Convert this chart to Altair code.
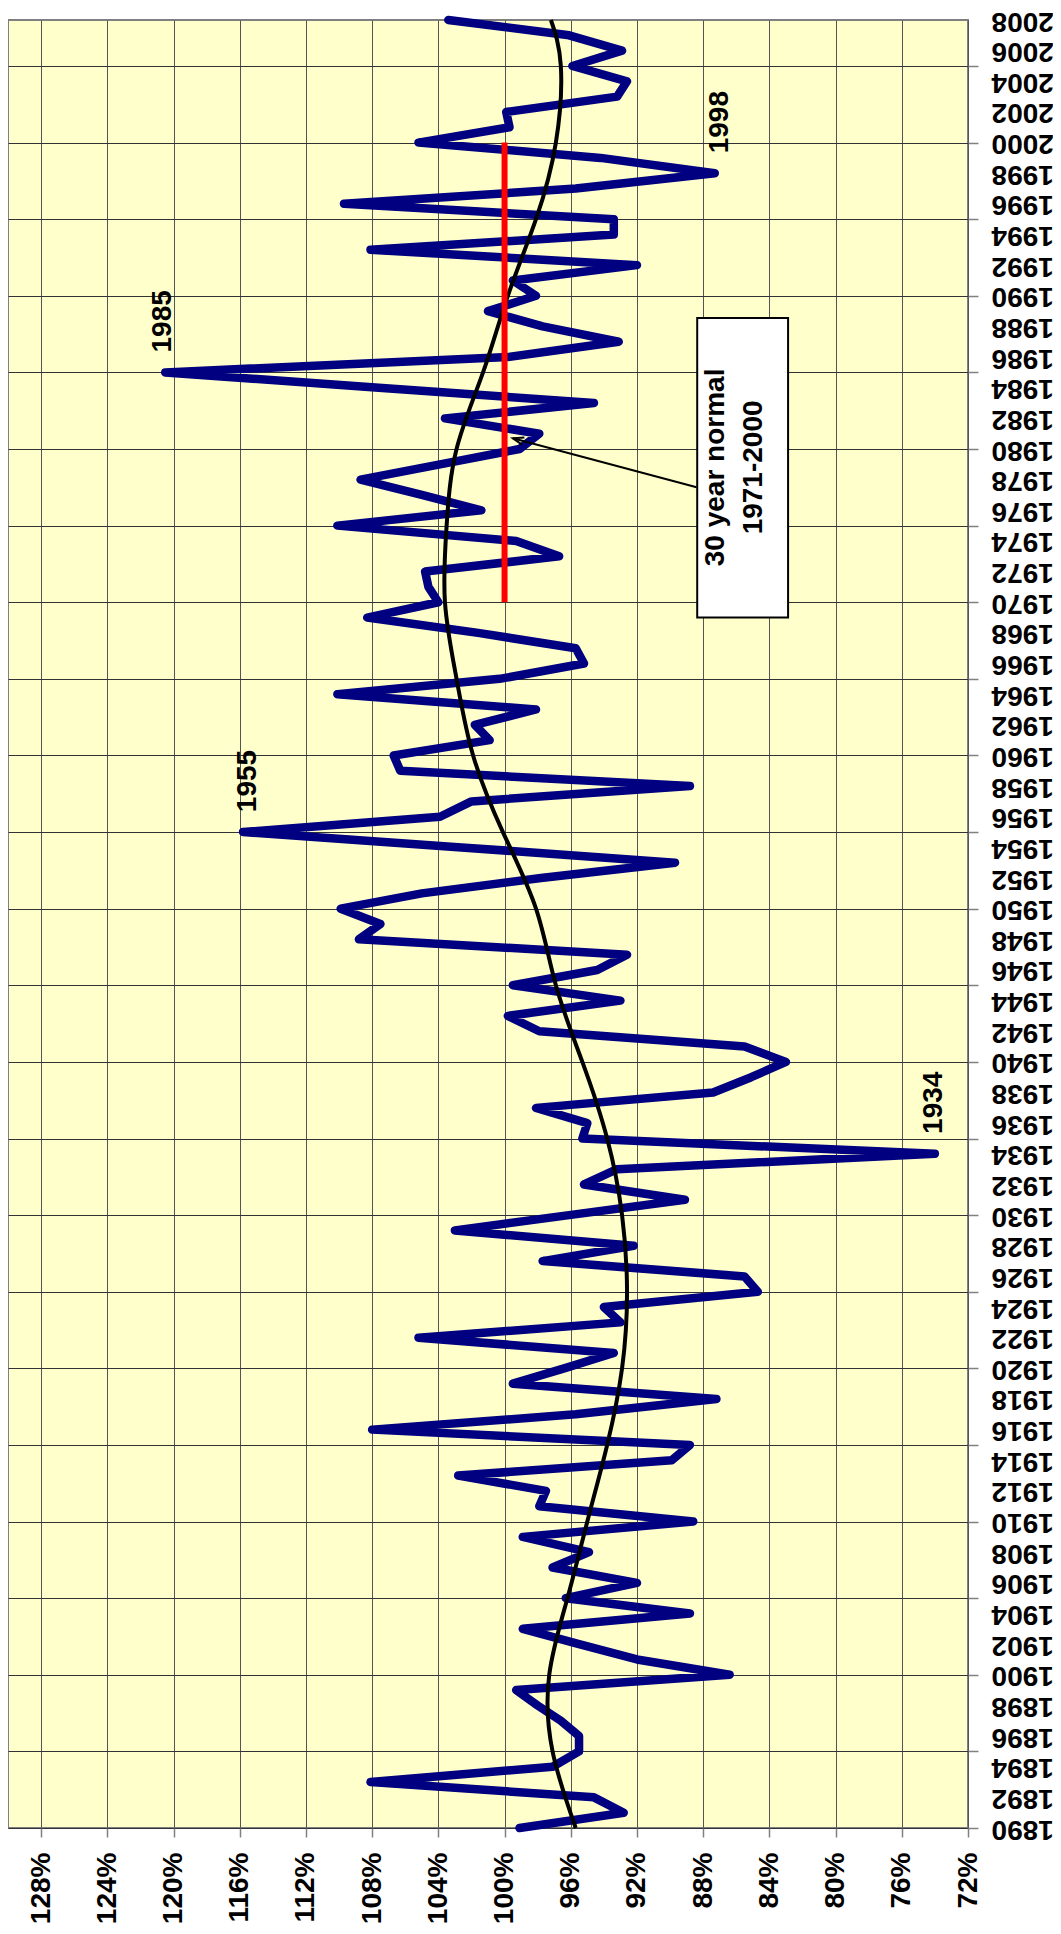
import altair as alt
import pandas as pd

# ---------------- data ----------------
years = list(range(1890, 2009))
precip_pct = [
    99.1, 92.8, 94.6, 108.1, 97.1, 95.5, 95.5, 96.6, 98.0, 99.3,   # 1890-1899
    86.4, 92.0, 95.5, 98.9, 88.8, 96.3, 92.0, 97.1, 94.9, 98.9,    # 1900-1909
    88.6, 97.9, 97.5, 102.8, 89.9, 88.8, 108.0, 95.7, 87.2, 99.5,  # 1910-1919
    96.4, 93.4, 105.2, 93.0, 94.0, 84.7, 85.5, 97.7, 92.2, 103.0,  # 1920-1929
    96.1, 89.1, 95.2, 93.2, 74.0, 95.3, 95.0, 98.1, 87.4, 85.1,    # 1930-1939
    83.0, 85.5, 97.9, 99.8, 93.0, 99.5, 94.4, 92.6, 108.8, 107.5,  # 1940-1949
    109.9, 105.0, 97.8, 89.7, 102.6, 115.8, 103.9, 102.0, 88.8, 106.3,  # 1950-1959
    106.7, 100.9, 101.8, 98.1, 110.1, 100.3, 95.2, 95.7, 101.6, 108.3,  # 1960-1969
    104.0, 104.6, 104.8, 96.7, 99.3, 110.1, 101.4, 105.0, 108.7, 103.9, # 1970-1979
    99.1, 97.9, 103.6, 94.6, 107.6, 120.5, 99.8, 93.1, 97.7, 101.0,     # 1980-1989
    98.1, 99.5, 92.0, 108.1, 93.4, 93.4, 109.7, 95.7, 87.3, 94.2,       # 1990-1999
    105.2, 99.7, 99.9, 93.2, 92.6, 95.9, 92.9, 96.1, 103.4,             # 2000-2008
]

trend_years = [1890, 1895, 1900, 1905, 1910, 1915, 1920, 1925, 1930, 1935,
               1940, 1945, 1950, 1955, 1960, 1965, 1970, 1975, 1980, 1985,
               1990, 1995, 2000, 2005, 2008]
trend_pct = [95.7, 97.1, 97.3, 96.2, 95.0, 93.8, 92.9, 92.6, 92.9, 93.8,
             95.3, 96.9, 98.1, 100.1, 101.9, 102.9, 103.6, 103.5, 102.9, 101.3,
             99.8, 98.1, 96.9, 96.6, 97.2]

normal_start, normal_end, normal_pct = 1970, 2000, 100

peak_labels = ["1985", "1955", "1934", "1998"]
peak_label_pct = [120.65, 115.5, 74.05, 87.0]
peak_label_year = [1986.3, 1956.3, 1935.3, 1999.3]

box_pct = [88.36, 82.87]
box_year = [1969.0, 1988.55]
box_lines = ["30 year normal", "1971-2000"]
box_line_pct = [87.2, 84.9]
box_line_year = [1978.8, 1978.8]

arrow_pct = [88.4, 99.5]
arrow_year = [1977.5, 1980.7]

pct_ticks = list(range(72, 129, 4))
year_ticks = sorted(set([y for y in range(1890, 2009) if y % 2 == 0 or y % 5 == 0]))

# ---------------- tables ----------------
df_main = pd.DataFrame({"year": years, "pct": precip_pct})
df_trend = pd.DataFrame({"year": trend_years, "pct": trend_pct})
df_normal = pd.DataFrame({"y1": [normal_start], "y2": [normal_end], "pct": [normal_pct]})
df_peaks = pd.DataFrame({"label": peak_labels, "pct": peak_label_pct, "year": peak_label_year})
df_box = pd.DataFrame({"p1": [box_pct[0]], "p2": [box_pct[1]], "y1": [box_year[0]], "y2": [box_year[1]]})
df_boxtext = pd.DataFrame({"label": box_lines, "pct": box_line_pct, "year": box_line_year})
df_arrow = pd.DataFrame({"p1": [arrow_pct[0]], "p2": [arrow_pct[1]], "y1": [arrow_year[0]], "y2": [arrow_year[1]]})
df_head = pd.DataFrame({"pct": [arrow_pct[1]], "year": [arrow_year[1]]})

FONT = "Liberation Sans"
FS = 28

x_scale = alt.Scale(domain=[72, 130], reverse=True, nice=False, zero=False)
y_scale = alt.Scale(domain=[1890, 2008], nice=False, zero=False)

x_axis = alt.Axis(
    values=pct_ticks, labelExpr="datum.value + '%'", orient="bottom",
    labelAngle=270, labelAlign="right", labelBaseline="middle",
    labelFont=FONT, labelFontSize=FS, labelFontWeight="bold", labelColor="black",
    labelPadding=15, labelFlush=False, labelOverlap=False,
    tickSize=9, tickColor="#808080", tickWidth=1.5,
    grid=True, gridColor="#555555", gridWidth=1, domain=False, title=None,
)
y_axis = alt.Axis(
    values=year_ticks, format="d", orient="right",
    labelExpr="datum.value % 2 == 0 ? datum.label : ''",
    labelAngle=180, labelAlign="right", labelBaseline="middle",
    labelFont=FONT, labelFontSize=FS, labelFontWeight="bold", labelColor="black",
    labelPadding=13, labelFlush=False, labelOverlap=False,
    tickSize=10, tickColor="#808080", tickWidth=1.5,
    tickOpacity={"condition": {"test": "datum.value % 5 == 0", "value": 1}, "value": 0},
    grid=True, gridColor="#333333", gridWidth=1,
    gridOpacity={"condition": {"test": "datum.value % 5 == 0", "value": 1}, "value": 0},
    domain=False, title=None,
)


def X(field):
    return alt.X(f"{field}:Q", scale=x_scale, axis=x_axis)


def Y(field):
    return alt.Y(f"{field}:Q", scale=y_scale, axis=y_axis)


main_line = alt.Chart(df_main).mark_line(
    color="#000080", strokeWidth=8.5, strokeJoin="round", strokeCap="round"
).encode(x=X("pct"), y=Y("year"), order="year:Q")

trend_line = alt.Chart(df_trend).mark_line(
    color="black", strokeWidth=4, interpolate="natural"
).encode(x=X("pct"), y=Y("year"), order="year:Q")

normal_rule = alt.Chart(df_normal).mark_rule(color="#FF0000", strokeWidth=6).encode(
    x=X("pct"), y=Y("y1"), y2="y2:Q"
)

peak_text = alt.Chart(df_peaks).mark_text(
    angle=270, align="left", baseline="middle", font=FONT, fontSize=FS,
    fontWeight="bold", color="black"
).encode(x=X("pct"), y=Y("year"), text="label:N")

box = alt.Chart(df_box).mark_rect(fill="white", stroke="black", strokeWidth=2).encode(
    x=X("p1"), x2="p2:Q", y=Y("y1"), y2="y2:Q"
)

box_text = alt.Chart(df_boxtext).mark_text(
    angle=270, align="center", baseline="middle", font=FONT, fontSize=FS,
    fontWeight="bold", color="black"
).encode(x=X("pct"), y=Y("year"), text="label:N")

arrow = alt.Chart(df_arrow).mark_rule(color="black", strokeWidth=2).encode(
    x=X("p1"), x2="p2:Q", y=Y("y1"), y2="y2:Q"
)

arrow_head = alt.Chart(df_head).mark_point(
    shape="M-0.7,2 L0,0 L0.7,2", angle=285, size=120, filled=False,
    stroke="black", strokeWidth=2, opacity=1
).encode(x=X("pct"), y=Y("year"))

chart = alt.layer(
    main_line, trend_line, normal_rule, peak_text, box, box_text, arrow, arrow_head
).properties(
    width=960, height=1808,
    autosize=alt.AutoSizeParams(type="none"),
    padding={"left": 0, "top": 12, "right": 85, "bottom": 98},
    background="white",
).configure_view(
    fill="#FFFFCC", stroke="#808080", strokeWidth=2
)

chart.save("out.html", embed_options={"renderer": "svg", "actions": False})
